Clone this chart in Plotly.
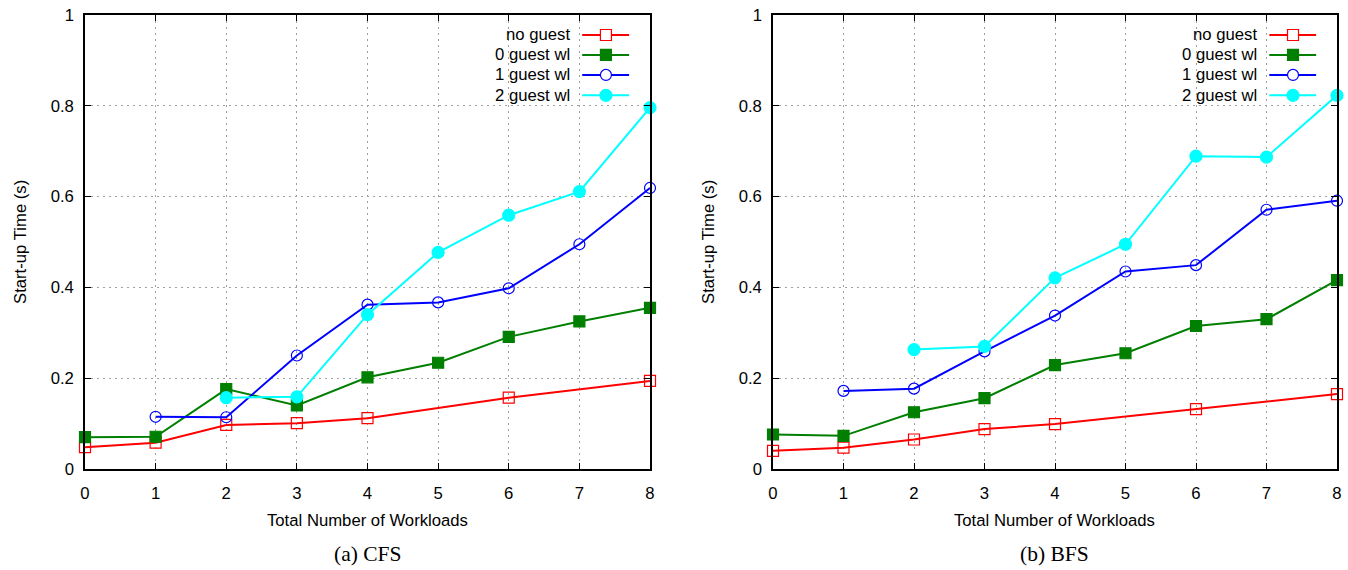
import plotly.graph_objects as go

# ---------------- data ----------------
x_full = [0, 1, 2, 3, 4, 5, 6, 7, 8]
x_noguest = [0, 1, 2, 3, 4, 6, 8]
x_1guest = [1, 2, 3, 4, 5, 6, 7, 8]
x_2guest = [2, 3, 4, 5, 6, 7, 8]

cfs_noguest = [0.048, 0.058, 0.097, 0.101, 0.112, 0.157, 0.194]
cfs_0guest = [0.070, 0.071, 0.176, 0.140, 0.202, 0.234, 0.291, 0.325, 0.355]
cfs_1guest = [0.115, 0.114, 0.250, 0.362, 0.367, 0.398, 0.495, 0.619]
cfs_2guest = [0.157, 0.159, 0.340, 0.477, 0.559, 0.611, 0.796]

bfs_noguest = [0.040, 0.047, 0.065, 0.088, 0.099, 0.132, 0.165]
bfs_0guest = [0.076, 0.073, 0.125, 0.156, 0.229, 0.255, 0.315, 0.330, 0.416]
bfs_1guest = [0.172, 0.177, 0.259, 0.338, 0.435, 0.449, 0.571, 0.591]
bfs_2guest = [0.263, 0.270, 0.421, 0.495, 0.689, 0.687, 0.823]

series_names = ["no guest", "0 guest wl", "1 guest wl", "2 guest wl"]
x_ticks = [0, 1, 2, 3, 4, 5, 6, 7, 8]
y_ticks = [0, 0.2, 0.4, 0.6, 0.8, 1]
y_tick_labels = ["0", "0.2", "0.4", "0.6", "0.8", "1"]
x_title = "Total Number of Workloads"
y_title = "Start-up Time (s)"
captions = ["(a) CFS", "(b) BFS"]

# ---------------- styles ----------------
colors = ["#ff0000", "#007f00", "#0000ff", "#00ffff"]
symbols = ["square-open", "square", "circle-open", "circle"]
msizes = [11, 11, 11, 12]
W, H = 1348, 570
FONT = "Liberation Sans, Arial, sans-serif"
FS = 16.7

fig = go.Figure()

panels = [
    (cfs_noguest, cfs_0guest, cfs_1guest, cfs_2guest),
    (bfs_noguest, bfs_0guest, bfs_1guest, bfs_2guest),
]
xs = [x_noguest, x_full, x_1guest, x_2guest]

for p, data in enumerate(panels):
    xa = "x" if p == 0 else "x2"
    ya = "y" if p == 0 else "y2"
    for i, ys in enumerate(data):
        fig.add_trace(go.Scatter(
            x=xs[i], y=ys, mode="lines+markers", name=series_names[i],
            xaxis=xa, yaxis=ya, showlegend=False, cliponaxis=False,
            line=dict(color=colors[i], width=2),
            marker=dict(symbol=symbols[i], size=msizes[i], color=colors[i],
                        line=dict(color=colors[i], width=1.2)),
        ))

y_bottom, y_top = 1 - 469 / H, 1 - 15 / H
domains = [(85 / W, 650 / W), (773 / W, 1337 / W)]

axis_common = dict(
    showline=True, linecolor="black", linewidth=1.5, mirror="allticks",
    ticks="inside", ticklen=6, tickcolor="black", tickwidth=1,
    showgrid=True, gridcolor="#a0a0a0", griddash="2px,4px", gridwidth=1,
    zeroline=False, automargin=False,
    tickfont=dict(family=FONT, size=FS, color="black"),
)

for p in range(2):
    sx = "" if p == 0 else "2"
    fig.layout["xaxis" + sx] = dict(
        axis_common, domain=domains[p], range=[0, 8], tickvals=x_ticks,
        anchor="y" + sx, ticklabelstandoff=8,
    )
    fig.layout["yaxis" + sx] = dict(
        axis_common, domain=[y_bottom, y_top], range=[0, 1], tickvals=y_ticks,
        ticktext=y_tick_labels, anchor="x" + sx, ticklabelstandoff=6,
    )

    xd = "x" + sx + " domain"
    yd = "y" + sx + " domain"
    xmid = (domains[p][0] + domains[p][1]) / 2

    # axis titles
    fig.add_annotation(
        text=x_title, xref="paper", yref="paper", x=xmid, y=1 - 520 / H,
        showarrow=False, xanchor="center", yanchor="middle",
        font=dict(family=FONT, size=FS, color="black"),
    )
    fig.add_annotation(
        text=y_title, xref="paper", yref="paper",
        x=(domains[p][0] * W - 65) / W, y=(y_bottom + y_top) / 2,
        showarrow=False, xanchor="center", yanchor="middle", textangle=-90,
        font=dict(family=FONT, size=FS, color="black"),
    )
    # caption
    fig.add_annotation(
        text=captions[p], xref="paper", yref="paper", x=xmid, y=1 - 554 / H,
        showarrow=False, xanchor="center", yanchor="middle",
        font=dict(family="Liberation Serif, Times New Roman, serif", size=21.5, color="black"),
    )

    # gnuplot-style legend (text on the left, sample on the right)
    text_right = 0.862
    line_x0, line_x1, mark_x = 0.880, 0.963, 0.922
    row_y = [0.956, 0.912, 0.868, 0.823]
    for i in range(4):
        fig.add_annotation(
            text=series_names[i], xref=xd, yref=yd, x=text_right, y=row_y[i],
            showarrow=False, xanchor="right", yanchor="middle",
            font=dict(family=FONT, size=FS, color="black"),
        )
        fig.add_shape(type="line", xref=xd, yref=yd, x0=line_x0, x1=line_x1,
                      y0=row_y[i], y1=row_y[i], line=dict(color=colors[i], width=2))
        mw = msizes[i] / 566 * 0.5
        mh = msizes[i] / 454 * 0.5
        filled = symbols[i] in ("square", "circle")
        shape_type = "rect" if "square" in symbols[i] else "circle"
        fig.add_shape(type=shape_type, xref=xd, yref=yd,
                      x0=mark_x - mw, x1=mark_x + mw, y0=row_y[i] - mh, y1=row_y[i] + mh,
                      line=dict(color=colors[i], width=1.2),
                      fillcolor=colors[i] if filled else "white")

fig.update_layout(
    width=W, height=H, margin=dict(l=0, r=0, t=0, b=0, autoexpand=False),
    paper_bgcolor="white", plot_bgcolor="white",
    font=dict(family=FONT, color="black"),
    showlegend=False,
)

fig.write_html(
    "out.html",
    config={"displayModeBar": False},
    post_script="document.body.style.margin='0';document.body.style.overflow='hidden';",
)
